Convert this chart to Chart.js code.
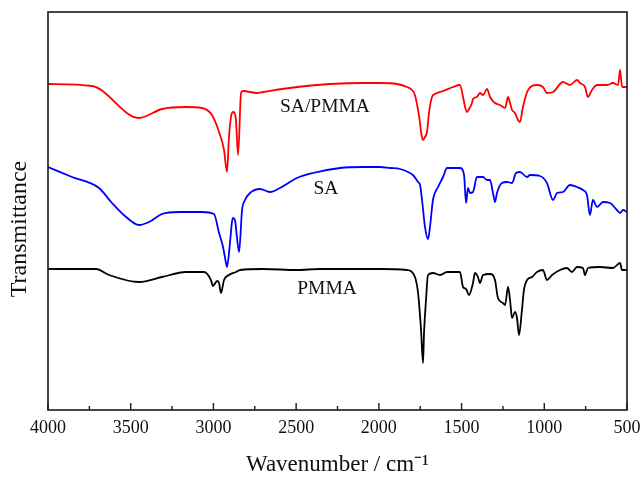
<!DOCTYPE html>
<html>
<head>
<meta charset="utf-8">
<script src="https://cdn.jsdelivr.net/npm/chart.js@4.4.1/dist/chart.umd.min.js"></script>
<style>
html,body{margin:0;padding:0;background:#fff;}
#wrap{width:641px;height:479px;}
</style>
</head>
<body>
<div id="wrap"><canvas id="c" width="641" height="479"></canvas></div>
<script>
// ---- Data (wavenumber in cm^-1, transmittance in arbitrary offset units) ----
const xTickValues = [4000, 3500, 3000, 2500, 2000, 1500, 1000, 500];
const yTickValues = [141];

const wnRed = [4000,3734,3450,3311,3166,3069,3009,2966,2936,2918,2906,2888,2876,2864,2851,2833,2821,2737,2700,2495,2295,2096,1993,1890,1830,1800,1782,1763,1751,1745,1733,1721,1709,1697,1679,1661,1612,1552,1510,1491,1479,1467,1455,1437,1431,1407,1389,1370,1346,1328,1298,1268,1250,1237,1219,1207,1195,1177,1159,1147,1129,1098,1044,1008,984,947,887,845,802,784,754,736,712,681,621,585,554,542,530,500];
const tRed  = [326,324,292,301,303,302,295,278,260,238,273,297,298,290,255,317,319,317,318,323,326,327,327,326,323,320,315,300,287,278,270,273,278,297,313,316,319,323,325,313,303,298,301,307,311,313,317,315,321,313,307,305,303,302,313,307,300,297,290,288,303,320,325,323,317,318,328,325,330,327,323,313,320,325,325,327,325,340,323,323];

const wnBlue = [4000,3855,3692,3613,3528,3450,3389,3311,3208,3069,2997,2966,2942,2924,2918,2900,2888,2882,2870,2858,2845,2827,2809,2779,2718,2658,2598,2495,2398,2235,2096,1993,1933,1872,1812,1794,1763,1751,1739,1721,1703,1691,1673,1642,1612,1588,1510,1485,1473,1461,1449,1431,1407,1370,1346,1328,1310,1298,1286,1256,1225,1195,1171,1147,1104,1086,1026,984,947,923,887,845,802,766,742,724,706,681,645,603,561,542,524,500];
const tBlue  = [243,233,222,207,193,185,188,196,198,198,196,177,163,147,143,167,188,192,190,173,158,200,210,217,221,218,222,232,237,242,243,243,242,241,237,235,228,225,210,183,171,183,210,223,233,242,242,235,207,222,217,218,233,233,230,230,217,208,217,227,228,227,237,238,233,235,234,227,210,217,218,225,223,220,215,195,210,203,208,207,200,197,200,198];

const wnBlack = [4000,3710,3631,3450,3311,3166,3057,3015,3003,2978,2966,2954,2936,2906,2864,2839,2700,2495,2356,2096,1993,1830,1782,1763,1745,1733,1727,1715,1703,1673,1630,1588,1510,1491,1473,1455,1431,1419,1401,1389,1370,1328,1298,1280,1250,1237,1219,1207,1195,1177,1165,1153,1135,1123,1104,1074,1044,1008,984,953,905,863,833,802,766,754,736,663,585,542,530,500];
const tBlack  = [141,141,135,128,133,138,138,130,124,129,127,117,130,135,138,140,141,140,141,141,141,140,133,117,80,47,77,110,135,137,135,138,138,123,121,115,127,137,133,127,135,136,130,112,107,105,123,110,92,98,92,75,100,120,130,133,138,140,130,135,140,142,138,143,142,135,142,143,142,147,140,140];

const seriesNames = ['SA/PMMA', 'SA', 'PMMA'];
const seriesColors = ['#ff0000', '#0000ff', '#000000'];
const labelWn = [2326, 2320, 2313];
const labelT = [303, 221, 121];

function pairs(xs, ys){ return xs.map((x,i)=>({x:x, y:ys[i]})); }

const SERIF = '"Liberation Serif", "Times New Roman", serif';

const framePlugin = {
  id: 'framePlugin',
  afterDraw(chart){
    const {ctx, chartArea:a, scales} = chart;
    const xs = scales.x, ys = scales.y;
    ctx.save();
    ctx.strokeStyle = '#1a1a1a';
    ctx.lineWidth = 1.6;
    ctx.strokeRect(a.left, a.top, a.right - a.left, a.bottom - a.top);
    ctx.lineWidth = 1.4;
    ctx.beginPath();
    xs.ticks.forEach(t=>{
      const px = xs.getPixelForValue(t.value);
      ctx.moveTo(px, a.bottom); ctx.lineTo(px, a.bottom - 7);
    });
    for (let i = 0; i < xs.ticks.length - 1; i++){
      const mid = (xs.ticks[i].value + xs.ticks[i+1].value) / 2;
      const px = xs.getPixelForValue(mid);
      ctx.moveTo(px, a.bottom); ctx.lineTo(px, a.bottom - 4);
    }
    yTickValues.forEach(v=>{
      const py = ys.getPixelForValue(v);
      ctx.moveTo(a.left, py); ctx.lineTo(a.left + 7, py);
    });
    ctx.stroke();
    ctx.fillStyle = '#111';
    ctx.font = '19.5px ' + SERIF;
    ctx.textAlign = 'center';
    ctx.textBaseline = 'middle';
    seriesNames.forEach((n,i)=>{
      ctx.fillText(n, xs.getPixelForValue(labelWn[i]), ys.getPixelForValue(labelT[i]));
    });
    ctx.restore();
  }
};

new Chart(document.getElementById('c'), {
  type: 'line',
  data: {
    datasets: [
      {label: seriesNames[0], data: pairs(wnRed, tRed), borderColor: seriesColors[0]},
      {label: seriesNames[1], data: pairs(wnBlue, tBlue), borderColor: seriesColors[1]},
      {label: seriesNames[2], data: pairs(wnBlack, tBlack), borderColor: seriesColors[2]}
    ]
  },
  options: {
    responsive: false,
    animation: false,
    elements: {
      point: {radius: 0},
      line: {borderWidth: 1.8, cubicInterpolationMode: 'monotone', borderJoinStyle: 'round', borderCapStyle: 'round'}
    },
    layout: {padding: {left: 0, right: 0, top: 12, bottom: 0}},
    plugins: {legend: {display: false}, tooltip: {enabled: false}},
    scales: {
      x: {
        type: 'linear', position: 'bottom', reverse: true,
        min: 500, max: 4000,
        afterBuildTicks: (s)=>{ s.ticks = xTickValues.map(v=>({value:v})); },
        afterFit: (s)=>{ s.paddingRight = 14; },
        ticks: {color: '#111', font: {family: SERIF, size: 18}, padding: 7.2, maxRotation: 0, autoSkip: false,
                callback: (v)=>String(v)},
        grid: {display: false, drawTicks: false},
        border: {display: false},
        title: {display: true, text: 'Wavenumber / cm\u207B\u00B9', color: '#111',
                font: {family: SERIF, size: 23}, padding: {top: 5.2, bottom: 0.2}}
      },
      y: {
        type: 'linear', min: 0, max: 398,
        ticks: {display: false},
        grid: {display: false, drawTicks: false},
        border: {display: false},
        title: {display: true, text: 'Transmittance      ', color: '#111',
                font: {family: SERIF, size: 24}, padding: {top: 5.6, bottom: 13.6}}
      }
    }
  },
  plugins: [framePlugin]
});
</script>
</body>
</html>
